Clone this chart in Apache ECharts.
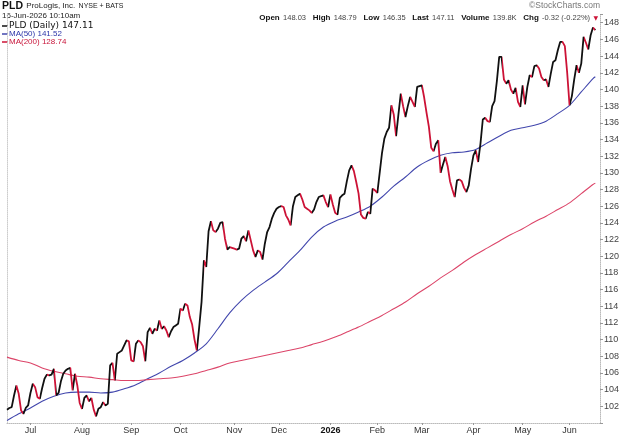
<!DOCTYPE html>
<html>
<head>
<meta charset="utf-8">
<script src="https://cdn.jsdelivr.net/npm/echarts@6/dist/echarts.min.js"></script>
<style>
  html, body { margin: 0; padding: 0; background: #fff; }
  #main { width: 620px; height: 436px; }
</style>
</head>
<body>
<div id="main"></div>
<script>
// market holidays inside the window; x axis runs over trading days only
const holidays = ['2025-06-19', '2025-07-04', '2025-09-01', '2025-11-27', '2025-12-25',
    '2026-01-01', '2026-01-19', '2026-02-16', '2026-04-03', '2026-05-25'];
const monthNames = ['Jan', 'Feb', 'Mar', 'Apr', 'May', 'Jun', 'Jul', 'Aug', 'Sep', 'Oct', 'Nov', 'Dec'];

// daily close, 16-Jun-2025 .. 16-Jun-2026
const price = [
    101.6, 101.8, 101.9, 103.3, 104.5, 103.5, 101.5, 101.1, 101.8, 102.1,
    103.6, 104.7, 104.3, 103.1, 102.9, 104.2, 105.3, 105.8, 105.7, 105.8,
    106.5, 103.3, 103.6, 105.0, 105.9, 106.3, 106.5, 106.6, 103.9, 105.9,
    104.5, 102.4, 101.7, 103.0, 103.3, 102.6, 103.0, 101.6, 100.8, 101.7,
    101.9, 102.5, 102.1, 102.3, 106.9, 107.2, 105.1, 108.3, 108.5, 108.7,
    109.3, 109.9, 109.8, 107.5, 107.4, 109.5, 109.9, 109.7, 109.2, 107.4,
    110.9, 111.4, 110.7, 111.3, 111.1, 112.3, 111.3, 111.6, 111.1, 110.3,
    111.0, 111.5, 111.7, 111.9, 113.7, 113.5, 114.3, 114.1, 112.7, 111.8,
    110.0, 108.7, 111.5, 114.5, 119.5, 118.7, 123.0, 124.2, 123.1, 122.9,
    123.3, 124.0, 124.1, 122.1, 120.8, 121.1, 121.0, 120.9, 120.8, 120.9,
    122.1, 122.4, 121.8, 123.1, 121.9, 120.7, 119.9, 120.7, 120.5, 119.6,
    121.5, 122.9, 123.5, 124.5, 125.2, 125.7, 125.9, 126.0, 125.9, 124.9,
    124.4, 123.7, 126.0, 127.1, 127.3, 127.5, 126.8, 125.9, 125.7, 125.5,
    125.2, 125.6, 126.5, 127.1, 127.2, 127.3, 126.5, 125.9, 127.4, 126.2,
    125.2, 125.0, 127.0, 127.3, 127.5, 129.0, 130.3, 130.9, 130.2, 128.9,
    127.5, 125.0, 124.6, 124.5, 125.3, 125.1, 128.1, 127.9, 127.6, 130.0,
    132.4, 134.1, 134.9, 135.4, 138.1, 137.0, 134.4, 137.0, 139.5, 138.0,
    136.7, 138.0, 139.1, 138.5, 137.9, 140.3, 140.4, 140.5, 139.0, 137.2,
    135.5, 133.0, 132.6, 133.5, 133.9, 130.0, 131.0, 131.9, 130.8, 129.0,
    128.0, 127.1, 129.1, 129.2, 129.0, 128.2, 127.7, 128.5, 130.5, 132.1,
    132.7, 131.3, 133.5, 136.4, 136.6, 136.2, 136.1, 138.0, 138.6, 141.0,
    143.9, 143.9, 141.2, 140.7, 141.1, 140.0, 139.5, 140.2, 138.5, 137.9,
    140.5, 138.2, 140.3, 141.7, 141.5, 142.8, 142.9, 142.5, 141.5, 141.1,
    141.2, 140.3, 141.9, 143.3, 143.5, 144.7, 145.7, 145.7, 145.2, 142.0,
    138.1, 139.2, 141.2, 142.9, 142.0, 143.1, 146.3, 145.6, 144.8, 146.5,
    147.43, 147.11
];

// moving averages, read every 5 trading days (index into the day list)
const maDays = [0, 5, 10, 15, 20, 25, 30, 35, 40, 45, 50, 55, 60, 65, 70, 75, 80, 85, 90, 95,
    100, 105, 110, 115, 120, 125, 130, 135, 140, 145, 150, 155, 160, 165, 170, 175, 180, 185,
    190, 195, 200, 205, 210, 215, 220, 225, 230, 235, 240, 245, 250, 251];
const ma50 = [100.3, 101.1, 101.8, 102.6, 103.2, 103.6, 103.7, 103.7, 103.6, 103.7,
    104.1, 104.6, 105.3, 106.0, 106.8, 107.5, 108.4, 109.5, 111.3, 113.2,
    114.7, 115.9, 116.9, 117.9, 119.3, 120.7, 122.3, 123.5, 124.2, 124.7,
    125.3, 126.0, 127.1, 128.4, 129.5, 130.7, 131.5, 132.1, 132.4, 132.5,
    132.8, 133.6, 134.4, 135.1, 135.4, 135.7, 136.2, 137.1, 138.1, 139.7, 141.3, 141.52];
const ma200 = [107.9, 107.5, 107.2, 106.6, 106.2, 105.9, 105.6, 105.5, 105.3, 105.2,
    105.1, 105.1, 105.2, 105.3, 105.4, 105.6, 105.9, 106.3, 106.7, 107.2,
    107.5, 107.8, 108.1, 108.4, 108.7, 109.0, 109.4, 109.8, 110.3, 110.9,
    111.5, 112.2, 112.9, 113.7, 114.5, 115.5, 116.4, 117.4, 118.3, 119.3,
    120.2, 121.0, 121.8, 122.6, 123.3, 124.1, 124.8, 125.6, 126.4, 127.5, 128.6, 128.74];

const UP = '#111111', DOWN = '#cc1236', BLUE = '#4247ad', PINK = '#dc4569';
const FONT = '"Liberation Sans", Arial, sans-serif';

// trading days 2025-06-16 .. 2026-06-18 (two empty days on the right)
const days = [];
for (let t = Date.UTC(2025, 5, 16); t <= Date.UTC(2026, 5, 18); t += 86400000) {
    const dt = new Date(t);
    const s = dt.toISOString().slice(0, 10);
    if (dt.getUTCDay() > 0 && dt.getUTCDay() < 6 && holidays.indexOf(s) < 0) days.push(s);
}
const isMonthStart = (i) => i > 0 && days[i].slice(5, 7) !== days[i - 1].slice(5, 7);

// red where the close fell from the day before
const downPieces = [];
for (let i = 1; i < price.length; i++) {
    if (price[i] < price[i - 1]) {
        const last = downPieces[downPieces.length - 1];
        if (last && last.lte === i - 1) last.lte = i;
        else downPieces.push({gt: i - 1, lte: i, color: DOWN});
    }
}

const chart = echarts.init(document.getElementById('main'));
chart.setOption({
    animation: false,
    grid: {left: 7, right: 20, top: 14.4, bottom: 13, containLabel: false, outerBoundsMode: 'none'},
    xAxis: {
        type: 'category',
        data: days,
        boundaryGap: false,
        axisLine: {lineStyle: {color: '#bbb', type: 'dotted'}},
        axisTick: {interval: isMonthStart, length: 2, lineStyle: {color: '#999'}},
        axisLabel: {
            interval: isMonthStart,
            margin: 3,
            fontSize: 9,
            fontFamily: FONT,
            color: '#333',
            formatter: (v) => v.slice(5, 7) === '01'
                ? '{y|' + v.slice(0, 4) + '}'
                : monthNames[+v.slice(5, 7) - 1],
            rich: {y: {fontWeight: 'bold', fontSize: 9, fontFamily: FONT, color: '#111'}}
        },
        splitLine: {show: false}
    },
    yAxis: [{
        type: 'value',
        position: 'right',
        min: 100,
        max: 149,
        interval: 2,
        axisLine: {show: true, lineStyle: {color: '#bbb', type: 'dotted'}},
        axisTick: {show: true, length: 3, lineStyle: {color: '#999'}},
        axisLabel: {
            margin: 4,
            fontSize: 9,
            fontFamily: FONT,
            color: '#444',
            formatter: (v) => (v === 100 || v === 149) ? '' : String(v)
        },
        splitLine: {show: false}
    }, {
        type: 'value',
        position: 'left',
        min: 100,
        max: 149,
        axisLine: {show: true, lineStyle: {color: '#ccc', type: 'dotted'}},
        axisTick: {show: false},
        axisLabel: {show: false},
        splitLine: {show: false}
    }],
    visualMap: {
        show: false,
        type: 'piecewise',
        seriesIndex: 0,
        dimension: 0,
        pieces: downPieces,
        outOfRange: {color: UP}
    },
    series: [{
        name: 'PLD',
        type: 'line',
        data: price,
        showSymbol: false,
        lineStyle: {width: 1.8},
        z: 5
    }, {
        name: 'MA(50)',
        type: 'line',
        data: maDays.map((d, k) => [d, ma50[k]]),
        showSymbol: false,
        smooth: 0.3,
        lineStyle: {width: 1.1, color: BLUE},
        itemStyle: {color: BLUE},
        z: 3
    }, {
        name: 'MA(200)',
        type: 'line',
        data: maDays.map((d, k) => [d, ma200[k]]),
        showSymbol: false,
        smooth: 0.3,
        lineStyle: {width: 1.1, color: PINK},
        itemStyle: {color: PINK},
        z: 3
    }],
    graphic: [
        {type: 'text', left: 2, top: 0, style: {
            text: '{a|PLD} {b|ProLogis, Inc.} {c|NYSE + BATS}',
            rich: {
                a: {fontSize: 10.5, fontWeight: 'bold', fontFamily: FONT, fill: '#111'},
                b: {fontSize: 8, fontFamily: FONT, fill: '#222'},
                c: {fontSize: 7, fontFamily: FONT, fill: '#222'}
            }
        }},
        {type: 'text', left: 2, top: 12, style: {
            text: '16-Jun-2026 10:10am', fontSize: 8, fontFamily: FONT, fill: '#222'
        }},
        {type: 'text', right: 20, top: 1, style: {
            text: '\u00a9StockCharts.com', fontSize: 8.5, fontFamily: FONT, fill: '#777'
        }},
        {type: 'text', right: 22, top: 12, style: {
            text: '{l|Open} {v|148.03}  {l|High} {v|148.79}  {l|Low} {v|146.35}  {l|Last} {v|147.11}  ' +
                  '{l|Volume} {v|139.8K}  {l|Chg} {v|-0.32 (-0.22%)} {r|\u25bc}',
            rich: {
                l: {fontSize: 8, fontWeight: 'bold', fontFamily: FONT, fill: '#111'},
                v: {fontSize: 7.5, fontFamily: FONT, fill: '#444'},
                r: {fontSize: 6, fontFamily: 'DejaVu Sans', fill: DOWN}
            }
        }},
        {type: 'line', shape: {x1: 2, y1: 26, x2: 8, y2: 26}, style: {stroke: '#111', lineWidth: 1.5}},
        {type: 'text', left: 9, top: 21, style: {
            text: 'PLD (Daily) 147.11', fontSize: 9, fontFamily: 'DejaVu Sans', fill: '#111'
        }},
        {type: 'line', shape: {x1: 2, y1: 34, x2: 8, y2: 34}, style: {stroke: BLUE, lineWidth: 1.5}},
        {type: 'text', left: 9, top: 30, style: {
            text: 'MA(50) 141.52', fontSize: 8, fontFamily: FONT, fill: '#2b35a8'
        }},
        {type: 'line', shape: {x1: 2, y1: 42, x2: 8, y2: 42}, style: {stroke: DOWN, lineWidth: 1.5}},
        {type: 'text', left: 9, top: 38, style: {
            text: 'MA(200) 128.74', fontSize: 8, fontFamily: FONT, fill: '#c8153a'
        }}
    ]
});
</script>
</body>
</html>
